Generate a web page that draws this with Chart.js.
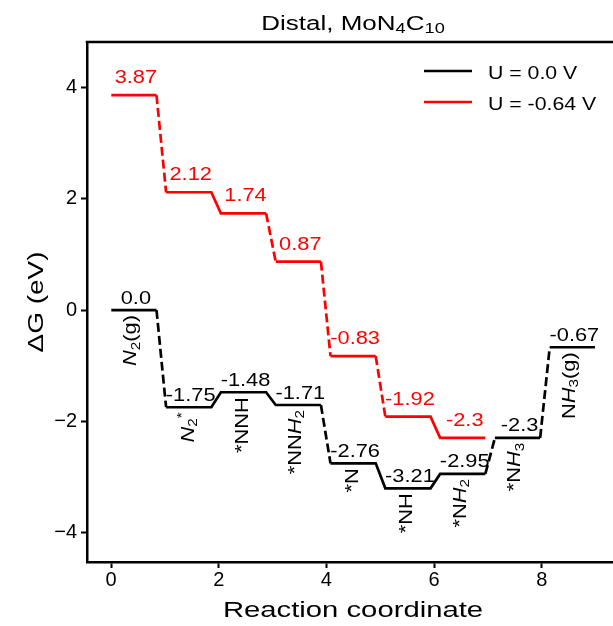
<!DOCTYPE html>
<html>
<head>
<meta charset="utf-8">
<script src="https://cdn.jsdelivr.net/npm/chart.js@4.4.1/dist/chart.umd.min.js"></script>
<style>
html,body{margin:0;padding:0;background:#fff;}
#wrap{width:613px;height:626px;position:relative;}
</style>
</head>
<body>
<div id="wrap"><canvas id="c" width="613" height="626"></canvas></div>
<script>
// ---------------- data ----------------
const categories = ['$N_2$(g)', '$N_2^*$', '*NNH', '*NN$H_2$', '*N', '*NH', '*N$H_2$', '*N$H_3$', 'N$H_3$(g)'];
const dG_U0    = [0.0, -1.75, -1.48, -1.71, -2.76, -3.21, -2.95, -2.3, -0.67];
const dG_Um064 = [3.87, 2.12, 1.74, 0.87, -0.83, -1.92, -2.3];
const seriesNames = ['U = 0.0 V', 'U = -0.64 V'];
const xTicks = [0, 2, 4, 6, 8];
const xTickLabels = ['0', '2', '4', '6', '8'];
const yTicks = [-4, -2, 0, 2, 4];
const yTickLabels = ['\u22124', '\u22122', '0', '2', '4'];
const titleText = 'Distal, MoN$_4$C$_{10}$';
const xTitle = 'Reaction coordinate';
const yTitle = '\u0394G (eV)';

// ---------------- layout / style ----------------
const FONT = '"Liberation Sans", Arial, sans-serif';
const BLACK = '#000000', RED = '#ff0000';
const STEP_PITCH = 1.018, STEP_OFFSET = 0.005, LEVEL_W = 0.84;
const LW = 2.7;

function fmtVal(v){ return Number.isInteger(v) ? v.toFixed(1) : String(v); }
function levelPoints(vals){
  const pts = [];
  vals.forEach((v, i) => {
    const s = i * STEP_PITCH + STEP_OFFSET;
    pts.push({x: s, y: v}, {x: s + LEVEL_W, y: v});
  });
  return pts;
}
function connectorDash(ctx){
  if (ctx.p0DataIndex % 2 === 1 && Math.abs(ctx.p0.parsed.y - ctx.p1.parsed.y) > 0.5) return [9, 4];
  return undefined;
}

// ---------------- rich text helpers ----------------
function parseRich(str){
  const segs = []; let math = false; let i = 0;
  while (i < str.length){
    const c = str[i];
    if (c === '$'){ math = !math; i++; continue; }
    if (c === '_' || c === '^'){
      const mode = c === '_' ? 'sub' : 'sup'; i++;
      let txt;
      if (str[i] === '{'){ const j = str.indexOf('}', i); txt = str.slice(i + 1, j); i = j + 1; }
      else { txt = str[i]; i++; }
      segs.push({t: txt, italic: false, mode});
      continue;
    }
    segs.push({t: c, italic: math && /[A-Za-z]/.test(c), mode: 'n'});
    i++;
  }
  return segs;
}
function fontFor(seg, size){
  const s = seg.mode === 'n' ? size : size * 0.7;
  return (seg.italic ? 'italic ' : '') + s.toFixed(2) + 'px ' + FONT;
}
function riseFor(seg, size){ return seg.mode === 'sub' ? -0.17 * size : seg.mode === 'sup' ? 0.42 * size : 0; }
function drawRich(ctx, str, x, y, o){
  const segs = parseRich(str);
  let w = 0, top = 0, bot = 0; const items = [];
  for (const s of segs){
    const f = fontFor(s, o.size); ctx.font = f;
    const m = ctx.measureText(s.t); const r = riseFor(s, o.size);
    items.push({t: s.t, x: w, r, f});
    w += m.width;
    top = Math.max(top, m.actualBoundingBoxAscent + r);
    bot = Math.max(bot, m.actualBoundingBoxDescent - r);
  }
  ctx.save();
  ctx.translate(x, y);
  if (o.rot) ctx.rotate(o.rot);
  ctx.scale(o.sx || 1, 1);
  const x0 = o.align === 'center' ? -w / 2 : o.align === 'right' ? -w : 0;
  const by = o.vAlign === 'inkcenter' ? (top - bot) / 2 : 0;
  ctx.fillStyle = o.color || '#000';
  ctx.textAlign = 'left'; ctx.textBaseline = 'alphabetic';
  for (const it of items){ ctx.font = it.f; ctx.fillText(it.t, x0 + it.x, by - it.r); }
  ctx.restore();
}

// ---------------- plugin for labels, title, legend ----------------
const decorPlugin = {
  id: 'decor',
  afterDatasetsDraw(chart){
    const ctx = chart.ctx, xs = chart.scales.x, ys = chart.scales.y;
    const series = [[dG_U0, BLACK, 6.5], [dG_Um064, RED, 12]];
    for (const [vals, col, off] of series){
      vals.forEach((v, i) => {
        const s = i * STEP_PITCH + STEP_OFFSET;
        const cx = xs.getPixelForValue(s + LEVEL_W / 2);
        drawRich(ctx, fmtVal(v), cx + 2, ys.getPixelForValue(v) - off, {size: 18.5, sx: 1.18, align: 'center', color: col});
      });
    }
    categories.forEach((name, i) => {
      const s = i * STEP_PITCH + STEP_OFFSET;
      const cx = xs.getPixelForValue(s + LEVEL_W / 2);
      const py = ys.getPixelForValue(dG_U0[i]);
      drawRich(ctx, name, cx - 2, py + 5, {size: 18.5, sx: 1.18, align: 'right', rot: -Math.PI / 2, vAlign: 'inkcenter', color: BLACK});
    });
  },
  afterDraw(chart){
    const ctx = chart.ctx, a = chart.chartArea;
    // top spine
    ctx.save();
    ctx.strokeStyle = BLACK; ctx.lineWidth = 2.5;
    ctx.beginPath(); ctx.moveTo(a.left - 1.25, a.top); ctx.lineTo(a.right + 2, a.top); ctx.stroke();
    ctx.restore();
    const midX = 353;
    // title
    drawRich(ctx, titleText, midX, a.top - 12, {size: 20, sx: 1.3, align: 'center'});
    // axis titles
    drawRich(ctx, xTitle, midX, 617, {size: 22.5, sx: 1.3, align: 'center'});
    drawRich(ctx, yTitle, 37, (a.top + a.bottom) / 2, {size: 21.5, sx: 1.3, align: 'center', rot: -Math.PI / 2, vAlign: 'inkcenter'});
    // legend
    chart.data.datasets.forEach((ds, k) => {
      const ly = a.top + 29 + k * 31;
      ctx.save();
      ctx.strokeStyle = ds.borderColor; ctx.lineWidth = LW;
      ctx.beginPath(); ctx.moveTo(424, ly); ctx.lineTo(472, ly); ctx.stroke();
      ctx.restore();
      drawRich(ctx, ds.label, 488, ly + 7.5, {size: 19, sx: 1.12, align: 'left'});
    });
  }
};

const tickFont = {family: FONT, size: 20};
new Chart(document.getElementById('c'), {
  type: 'scatter',
  data: {
    datasets: [
      {label: seriesNames[0], data: levelPoints(dG_U0), borderColor: BLACK, backgroundColor: BLACK,
       borderWidth: LW, showLine: true, pointRadius: 0, tension: 0, fill: false,
       segment: {borderDash: connectorDash}},
      {label: seriesNames[1], data: levelPoints(dG_Um064), borderColor: RED, backgroundColor: RED,
       borderWidth: LW, showLine: true, pointRadius: 0, tension: 0, fill: false,
       segment: {borderDash: connectorDash}}
    ]
  },
  options: {
    responsive: false,
    animation: false,
    events: [],
    layout: {padding: {top: 42, left: 0, right: 0, bottom: 0}},
    plugins: {legend: {display: false}, title: {display: false}, tooltip: {enabled: false}},
    scales: {
      x: {
        type: 'linear', position: 'bottom', min: -0.446, max: 9.324,
        afterBuildTicks: s => { s.ticks = xTicks.map(v => ({value: v})); },
        afterFit: s => { s.height = 64; },
        ticks: {font: tickFont, color: BLACK, padding: 0, maxRotation: 0, autoSkip: false,
                callback: (v) => xTickLabels[xTicks.indexOf(v)]},
        grid: {display: true, drawOnChartArea: false, drawTicks: true, tickLength: 6, tickWidth: 2, tickColor: BLACK},
        border: {display: true, color: BLACK, width: 2.5}
      },
      y: {
        type: 'linear', position: 'left', min: -4.536, max: 4.825,
        afterBuildTicks: s => { s.ticks = yTicks.map(v => ({value: v})); },
        afterFit: s => { s.width = 87; },
        ticks: {font: tickFont, color: BLACK, padding: 4, autoSkip: false,
                callback: (v) => yTickLabels[yTicks.indexOf(v)]},
        grid: {display: true, drawOnChartArea: false, drawTicks: true, tickLength: 6, tickWidth: 2, tickColor: BLACK},
        border: {display: true, color: BLACK, width: 2.5}
      }
    }
  },
  plugins: [decorPlugin]
});
</script>
</body>
</html>
